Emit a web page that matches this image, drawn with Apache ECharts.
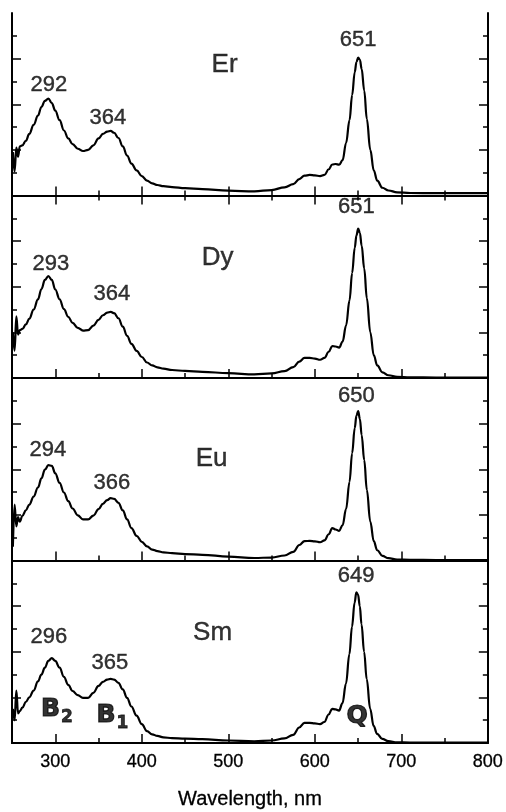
<!DOCTYPE html>
<html>
<head>
<meta charset="utf-8">
<script src="https://cdn.jsdelivr.net/npm/echarts@6/dist/echarts.min.js"></script>
<style>
  html, body { margin: 0; padding: 0; background: #fff; }
  #chart { width: 506px; height: 812px; }
</style>
</head>
<body>
<div id="chart"></div>
<script>
// wavelength grid (nm), shared by all four spectra
const wavelength = [251, 253, 255, 257, 259, 262, 266, 270, 275, 280, 284, 288, 292, 296, 300,
  305, 310, 315, 320, 326, 332, 338, 344, 350, 355, 360, 364, 368, 373, 378, 383, 388, 394, 400,
  406, 412, 418, 425, 435, 450, 470, 500, 530, 550, 565, 575, 582, 588, 594, 600, 606, 611, 616,
  620, 624, 628, 632, 636, 640, 643, 646, 648, 650, 652, 654, 657, 660, 664, 668, 672, 678, 685,
  695, 710, 740, 770, 800];

// absorbance, arbitrary units (0..8 per panel)
const erValues = [1.9, 1.05, 2.1, 1.7, 2.15, 2.2, 2.4, 2.7, 3.1, 3.5, 3.88, 4.15, 4.25, 4.05, 3.72,
  3.3, 2.85, 2.5, 2.25, 2.05, 1.95, 2.0, 2.2, 2.5, 2.7, 2.8, 2.83, 2.75, 2.52, 2.15, 1.75, 1.4, 1.1, 0.85,
  0.65, 0.53, 0.46, 0.41, 0.37, 0.32, 0.28, 0.21, 0.18, 0.24, 0.36, 0.5, 0.72, 0.87, 0.9, 0.88, 0.85, 0.9, 1.15,
  1.36, 1.38, 1.35, 1.55, 2.3, 3.3, 4.4, 5.4, 5.85, 6.05, 5.95, 5.55, 4.6, 3.35, 2.0, 1.1, 0.65, 0.34, 0.22,
  0.14, 0.11, 0.1, 0.1, 0.1];
const dyValues = [2.0, 1.2, 2.7, 1.9, 2.1, 2.15, 2.35, 2.6, 3.0, 3.45, 3.9, 4.3, 4.47, 4.3, 3.88,
  3.45, 3.02, 2.68, 2.42, 2.2, 2.08, 2.1, 2.3, 2.55, 2.75, 2.87, 2.9, 2.84, 2.62, 2.25, 1.85, 1.5, 1.19, 0.92,
  0.68, 0.55, 0.47, 0.41, 0.35, 0.31, 0.27, 0.21, 0.16, 0.2, 0.3, 0.48, 0.72, 0.88, 0.88, 0.85, 0.8, 0.88, 1.15,
  1.4, 1.38, 1.33, 1.6, 2.3, 3.4, 4.6, 5.7, 6.25, 6.55, 6.35, 5.8, 4.8, 3.5, 2.0, 1.0, 0.55, 0.25, 0.12,
  0.05, 0.03, 0.02, 0.02, 0.02];
const euValues = [0.6, 2.45, 1.5, 1.9, 1.7, 1.96, 2.2, 2.45, 2.8, 3.2, 3.6, 3.98, 4.18, 4.15, 3.82,
  3.4, 2.98, 2.6, 2.28, 1.98, 1.8, 1.8, 1.97, 2.25, 2.48, 2.65, 2.73, 2.7, 2.53, 2.2, 1.8, 1.42, 1.08, 0.82,
  0.62, 0.48, 0.41, 0.36, 0.32, 0.28, 0.25, 0.17, 0.11, 0.13, 0.22, 0.38, 0.68, 0.85, 0.86, 0.84, 0.8, 0.88, 1.15,
  1.42, 1.36, 1.3, 1.55, 2.25, 3.45, 4.7, 5.8, 6.35, 6.55, 6.2, 5.5, 4.4, 3.1, 1.7, 0.85, 0.45, 0.2, 0.1,
  0.04, 0.03, 0.02, 0.02, 0.02];
const smValues = [1.5, 1.0, 2.3, 1.3, 1.4, 1.55, 1.8, 2.0, 2.3, 2.7, 3.0, 3.3, 3.6, 3.72, 3.6,
  3.3, 2.9, 2.55, 2.28, 2.1, 1.98, 1.98, 2.2, 2.5, 2.68, 2.78, 2.81, 2.78, 2.64, 2.35, 1.98, 1.6, 1.2, 0.83,
  0.52, 0.38, 0.31, 0.25, 0.21, 0.19, 0.17, 0.11, 0.07, 0.11, 0.2, 0.36, 0.68, 0.88, 0.88, 0.86, 0.83, 0.92, 1.25,
  1.5, 1.47, 1.42, 1.75, 2.6, 3.9, 5.1, 6.15, 6.6, 6.5, 6.0, 5.2, 4.0, 2.8, 1.5, 0.75, 0.4, 0.18, 0.08,
  0.03, 0.02, 0.02, 0.02, 0.02];

const panelNames = ['Er', 'Dy', 'Eu', 'Sm'];
const peakTexts = [['292', '364', '651'], ['293', '364', '651'], ['294', '366', '650'], ['296', '365', '649']];
const bandTexts = ['B2', 'B1', 'Q'];

const xLabelTicks = [300, 400, 500, 600, 700, 800];
const xMajorTicks = [300, 400, 500, 600, 700];
const xMinorTicks = [350, 450, 550, 650, 750];
const yMajorTicks = [2, 4, 6];
const yMinorTicks = [1, 3, 5, 7];

// where the annotations sit, in data units (wavelength, absorbance)
const peakSpots = [
  [[292.7, 4.84], [360.7, 3.38], [650, 6.81]],
  [[295, 5.01], [365.3, 3.69], [647.8, 7.52]],
  [[291.5, 4.84], [365.3, 3.38], [647.8, 7.21]],
  [[292.7, 4.66], [363, 3.52], [647.8, 7.34]]
];
const nameSpots = [[495.6, 5.71], [487.5, 5.27], [480.6, 4.44], [481.8, 4.84]];
const bandSpots = [[302, 1.45], [366, 1.2], [649, 1.14]];

const spectra = [erValues, dyValues, euValues, smValues];

const font = '"Liberation Sans", Arial, sans-serif';
const narrow = '"Liberation Sans Narrow", "Liberation Sans", Arial, sans-serif';
const heavy = '"DejaVu Sans", "Liberation Sans", sans-serif';

const grids = [], xAxes = [], yAxes = [], series = [];

for (let i = 0; i < 4; i++) {
  grids.push({ left: 12, right: 18, top: 13 + i * 182.5, height: 182.5 });
  const last = i === 3;
  const line = { show: true, lineStyle: { color: '#000', width: 2 } };
  const noLine = { show: false };
  const tick = (vals, len) => ({ show: true, inside: true, length: len, customValues: vals,
    lineStyle: { color: '#000', width: 1.5 } });
  const baseX = { gridIndex: i, type: 'value', min: 250, max: 800, splitLine: { show: false } };
  const baseY = { gridIndex: i, type: 'value', min: 0, max: 8, splitLine: { show: false },
    axisLabel: { show: false } };

  const xMain = xAxes.length;
  xAxes.push(Object.assign({}, baseX, {
    position: 'bottom', axisLine: line, axisTick: tick(xMajorTicks, 9),
    axisLabel: { show: last, customValues: xLabelTicks, margin: 10, color: '#000', fontSize: 18,
      fontFamily: font, textBorderColor: '#000', textBorderWidth: 0.3 },
    name: last ? 'Wavelength, nm' : '', nameLocation: 'middle', nameGap: 46,
    nameTextStyle: { color: '#000', fontSize: 20, fontFamily: font, textBorderColor: '#000', textBorderWidth: 0.3 }
  }));
  xAxes.push(Object.assign({}, baseX, { position: 'bottom', axisLine: noLine,
    axisTick: tick(xMinorTicks, 5), axisLabel: { show: false } }));
  xAxes.push(Object.assign({}, baseX, { position: 'top', axisLine: line,
    axisTick: i === 0 ? tick(xMajorTicks, 9) : { show: false }, axisLabel: { show: false } }));
  if (i === 0) {
    xAxes.push(Object.assign({}, baseX, { position: 'top', axisLine: noLine,
      axisTick: tick(xMinorTicks, 5), axisLabel: { show: false } }));
  }

  const yMain = yAxes.length;
  yAxes.push(Object.assign({}, baseY, { position: 'left', axisLine: line, axisTick: tick(yMajorTicks, 9) }));
  yAxes.push(Object.assign({}, baseY, { position: 'left', axisLine: noLine, axisTick: tick(yMinorTicks, 5) }));
  yAxes.push(Object.assign({}, baseY, { position: 'right', axisLine: line, axisTick: tick(yMajorTicks, 9) }));
  yAxes.push(Object.assign({}, baseY, { position: 'right', axisLine: noLine, axisTick: tick(yMinorTicks, 5) }));

  series.push({
    type: 'line', xAxisIndex: xMain, yAxisIndex: yMain,
    data: wavelength.map((w, k) => [w, spectra[i][k]]),
    showSymbol: false, smooth: 0.4, smoothMonotone: 'x',
    lineStyle: { color: '#000', width: 2.2 }, silent: true
  });

  // text annotations anchored in data space
  const notes = peakTexts[i].map((t, k) => ({ value: peakSpots[i][k], text: t }));
  notes.push({ value: nameSpots[i], text: panelNames[i],
    label: { fontSize: 26, fontFamily: font } });
  if (last) {
    bandTexts.forEach((t, k) => {
      const sub = t.slice(1);
      notes.push({ value: bandSpots[k], text: sub ? '{b|' + t[0] + '}{s|' + sub + '}' : '{b|' + t + '}' });
    });
  }
  series.push({
    type: 'scatter', xAxisIndex: xMain, yAxisIndex: yMain, symbolSize: 1, silent: true,
    itemStyle: { color: 'rgba(255,255,255,0)' }, z: 5,
    label: {
      show: true, position: 'inside', color: '#000', fontSize: 22, fontFamily: narrow,
      textBorderColor: '#000', textBorderWidth: 0.4,
      formatter: p => p.data.text,
      rich: {
        b: { fontSize: 25, fontWeight: 'bold', fontFamily: heavy, color: '#000', lineHeight: 32,
          textBorderColor: '#000', textBorderWidth: 1.2 },
        s: { fontSize: 17, fontWeight: 'bold', fontFamily: heavy, color: '#000', lineHeight: 32,
          verticalAlign: 'bottom', padding: [10, 0, 0, 1], textBorderColor: '#000', textBorderWidth: 0.8 }
      }
    },
    data: notes
  });
}

const chart = echarts.init(document.getElementById('chart'));
chart.setOption({
  animation: false,
  backgroundColor: '#fff',
  grid: grids,
  xAxis: xAxes,
  yAxis: yAxes,
  series: series
});
window.addEventListener('resize', () => chart.resize());
</script>
</body>
</html>
